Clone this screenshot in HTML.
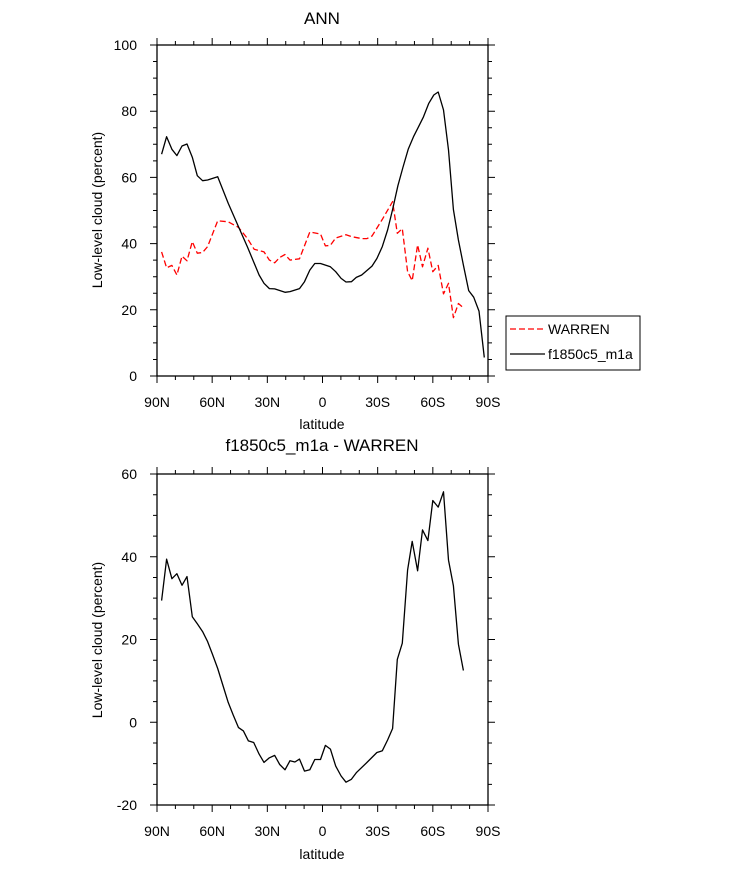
<!DOCTYPE html>
<html><head><meta charset="utf-8"><style>
body{margin:0;background:#fff}
svg{display:block;font-family:"Liberation Sans",Arial,sans-serif}
</style></head><body>
<svg id="s" width="733" height="869" xmlns="http://www.w3.org/2000/svg">
<text x="322" y="24" font-size="17" text-anchor="middle">ANN</text>
<text x="322" y="451" font-size="17" text-anchor="middle">f1850c5_m1a - WARREN</text>
<text x="322" y="429" font-size="14" text-anchor="middle">latitude</text>
<text x="322" y="859" font-size="14" text-anchor="middle">latitude</text>
<text transform="translate(102,210) rotate(-90)" font-size="14" text-anchor="middle">Low-level cloud (percent)</text>
<text transform="translate(102,640) rotate(-90)" font-size="14" text-anchor="middle">Low-level cloud (percent)</text>
<g>
<rect x="506" y="316" width="134" height="54" fill="none" stroke="#000" stroke-width="1"/>
<line x1="510" y1="329" x2="545" y2="329" stroke="#f00" stroke-width="1.3" stroke-dasharray="6,3"/>
<text x="548" y="334" font-size="14">WARREN</text>
<line x1="510" y1="354" x2="545" y2="354" stroke="#000" stroke-width="1.3"/>
<text x="548" y="359" font-size="14">f1850c5_m1a</text>
</g>
</svg>
<script>
const latModel=[87.5,84.8,81.9,79.2,76.4,73.7,70.8,68.1,65.2,62.5,57.0,51.3,45.7,40.9,34.5,31.8,28.9,26.0,20.4,17.7,12.5,9.8,6.9,4.2,1.1,-4.3,-7.2,-10.1,-12.8,-15.7,-18.4,-21.3,-26.9,-29.6,-32.5,-35.4,-38.1,-41.0,-43.7,-46.6,-49.5,-52.2,-54.9,-57.8,-60.5,-62.9,-65.8,-68.5,-71.2,-73.9,-76.6,-79.5,-82.2,-85.1,-88.0];
const valModel=[67.0,72.3,68.5,66.6,69.5,70.1,66.1,60.5,59.0,59.2,60.2,52.2,45.1,39.1,30.5,28.0,26.4,26.3,25.3,25.5,26.4,28.5,32.0,34.0,34.0,33.0,31.5,29.5,28.4,28.5,29.8,30.5,33.2,35.5,39.1,44.1,50.3,57.5,63.0,68.5,72.3,75.3,78.3,82.4,84.9,85.8,80.4,68.3,50.3,41.1,33.5,25.8,23.8,19.6,5.6];
const latObs=[87.5,84.8,81.9,79.2,76.4,73.7,70.8,68.1,65.2,62.5,57.0,51.3,45.7,40.9,37.2,31.8,28.9,26.0,23.3,20.4,17.7,12.5,6.9,1.1,-1.6,-4.3,-7.2,-12.8,-15.7,-21.3,-24.2,-26.9,-32.5,-38.1,-40.7,-43.4,-46.3,-48.8,-51.7,-54.4,-57.3,-60.0,-62.9,-65.8,-68.5,-71.2,-73.9,-76.6];
const valObs=[37.5,32.7,33.4,30.5,36.2,34.8,40.6,37.1,37.3,39.1,46.9,46.6,44.9,41.6,38.3,37.5,35.0,34.2,35.8,36.7,35.0,35.4,43.5,42.9,39.3,39.5,41.7,42.7,42.1,41.5,41.5,42.3,47.3,52.7,43.1,44.5,31.5,28.8,39.6,33.0,38.6,31.5,33.4,24.8,28.0,17.6,21.9,20.6];
const latDiff=[87.5,84.8,81.9,79.2,76.4,73.7,70.8,68.1,65.2,62.5,59.8,57.0,54.2,51.3,48.6,45.7,43.0,40.3,37.4,34.5,31.8,28.9,26.0,23.3,20.4,17.7,15.0,12.5,9.8,6.9,4.2,1.1,-1.6,-4.3,-7.2,-10.1,-12.8,-15.7,-18.4,-24.2,-29.6,-32.5,-35.4,-38.1,-40.7,-43.4,-46.3,-48.8,-51.7,-54.4,-57.3,-60.0,-62.9,-65.8,-68.5,-71.2,-73.9,-76.6];
const valDiff=[29.4,39.4,34.7,35.9,33.1,35.2,25.5,23.8,21.9,19.5,16.4,13.0,9.0,4.8,1.8,-1.3,-2.1,-4.5,-4.9,-7.7,-9.7,-8.6,-8.0,-10.2,-11.5,-9.3,-9.6,-8.9,-11.8,-11.5,-9.0,-9.0,-5.6,-6.5,-10.6,-13.0,-14.5,-13.8,-12.2,-9.7,-7.3,-6.9,-4.3,-1.5,15.2,19.1,36.8,43.7,36.6,46.5,43.9,53.6,52.0,55.7,39.2,33.0,18.9,12.5];
const xTickVals=[90,60,30,0,-30,-60,-90];
const xTickLabels=["90N","60N","30N","0","30S","60S","90S"];
const yTopTicks=[0,20,40,60,80,100];
const yBotTicks=[-20,0,20,40,60];

const NS="http://www.w3.org/2000/svg";
const svg=document.getElementById('s');
function mk(t,a){const e=document.createElementNS(NS,t);for(const k in a)e.setAttribute(k,a[k]);svg.appendChild(e);return e;}
const X0=157,X1=488;
function xs(lat){return X0+(90-lat)/180*(X1-X0);}
function panel(name,Y0,Y1,ymin,ymax,yticks,series){
  const ys=v=>Y1-(v-ymin)/(ymax-ymin)*(Y1-Y0);
  const f=mk('rect',{x:X0,y:Y0,width:X1-X0,height:Y1-Y0,fill:'none',stroke:'#000','stroke-width':1.3});
  
  
  let d='';
  for(let l=90;l>=-90;l-=10){const x=xs(l);const L=(l%30===0)?7:4;d+=`M${x},${Y1}v${L}M${x},${Y0}v${-L}`;}
  for(let v=ymin;v<=ymax+0.01;v+=5){const y=ys(v);const L=(v%20===0)?7:4;d+=`M${X0},${y}h${-L}M${X1},${y}h${L}`;}
  const t=mk('path',{d:d,stroke:'#000','stroke-width':1,fill:'none'});
  
  
  xTickVals.forEach((v,i)=>{const e=mk('text',{x:xs(v),y:Y1+31,'font-size':14,'text-anchor':'middle'});e.textContent=xTickLabels[i];
    
    });
  yticks.forEach(v=>{const e=mk('text',{x:X0-20,y:ys(v)+5,'font-size':14,'text-anchor':'end'});e.textContent=String(v);
    
    });
  series.forEach(s=>{const p=s.lat.map((l,i)=>xs(l).toFixed(1)+','+ys(s.val[i]).toFixed(1)).join(' ');
    const e=mk('polyline',{points:p,fill:'none',stroke:s.c,'stroke-width':1.3,'stroke-dasharray':s.dash||'none','stroke-linejoin':'round'});
    
    });
}
panel('top',45,376,0,100,yTopTicks,[{lat:latObs,val:valObs,c:'#f00',dash:'6,3',n:'warren-line'},{lat:latModel,val:valModel,c:'#000',n:'model-line'}]);
panel('bottom',474,805,-20,60,yBotTicks,[{lat:latDiff,val:valDiff,c:'#000',n:'difference-line'}]);
</script>
</body></html>
